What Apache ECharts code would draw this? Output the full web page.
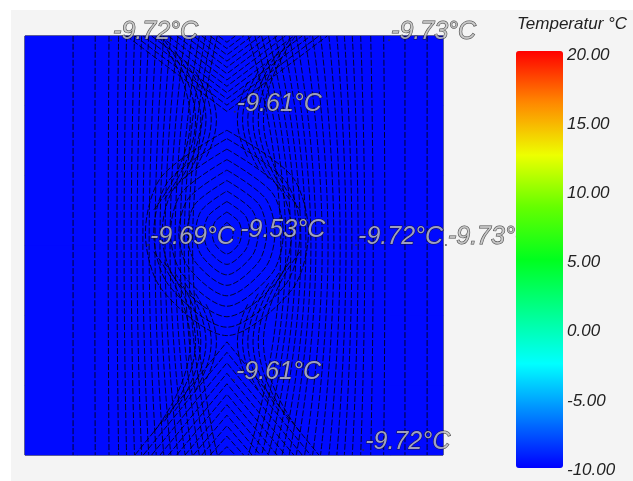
<!DOCTYPE html>
<html><head><meta charset="utf-8">
<script src="https://cdn.jsdelivr.net/npm/echarts@6/dist/echarts.min.js"></script>
<style>html,body{margin:0;padding:0;background:#fff}#c{width:633px;height:481px}</style>
</head><body><div id="c"></div><script>
// temperature field (°C), rows bottom -> top
const fieldCols = ['c1','c2','c3','c4','c5','c6','c7','c8'];
const fieldRows = ['r1','r2','r3','r4','r5','r6'];
const fieldTemps = [
  [-9.72,-9.71,-9.67,-9.62,-9.63,-9.68,-9.72,-9.73],
  [-9.72,-9.70,-9.66,-9.60,-9.61,-9.67,-9.71,-9.73],
  [-9.72,-9.70,-9.65,-9.54,-9.57,-9.66,-9.71,-9.73],
  [-9.72,-9.70,-9.65,-9.53,-9.57,-9.66,-9.71,-9.73],
  [-9.72,-9.70,-9.66,-9.60,-9.61,-9.67,-9.71,-9.73],
  [-9.72,-9.71,-9.67,-9.62,-9.63,-9.68,-9.72,-9.73]
];
// colour scale
const scaleMin = -10, scaleMax = 20, scaleStep = 5;
const scaleColors = ['#0000ff','#0080ff','#00ffff','#00ff8f','#00ff1e','#64ff00','#edff00','#ff8900','#ff0000'];
const scaleTitle = 'Temperatur °C';
// contour lines (domain 0..1): side lines [xTop, xMid, xBottom]
const leftContours = [
  [0.115,0.115,0.115],[0.168,0.167,0.168],[0.201,0.199,0.201],[0.224,0.220,0.224],
  [0.243,0.237,0.243],[0.262,0.254,0.262],[0.279,0.268,0.279],[0.296,0.282,0.296],
  [0.314,0.297,0.314],[0.332,0.311,0.332],[0.349,0.323,0.349],[0.366,0.335,0.366],
  [0.383,0.347,0.383],[0.400,0.359,0.400],[0.417,0.371,0.417],[0.432,0.381,0.432],
  [0.446,0.391,0.446],[0.460,0.401,0.460]
];
const rightContours = [
  [0.962,0.962,0.962],[0.909,0.909,0.909],[0.858,0.861,0.858],[0.827,0.833,0.827],
  [0.803,0.813,0.803],[0.783,0.797,0.783],[0.764,0.782,0.764],[0.746,0.768,0.746],
  [0.727,0.754,0.727],[0.707,0.739,0.707],[0.688,0.725,0.688],[0.669,0.711,0.669],
  [0.649,0.696,0.649],[0.632,0.684,0.632],[0.615,0.672,0.615],[0.598,0.660,0.598],
  [0.582,0.648,0.582],[0.566,0.636,0.566],[0.550,0.624,0.550],[0.534,0.612,0.534]
];
// nested contours around the centre column
const contourCenter = [0.483, 0.53];
const lensContours = [
  [0.015,0.025],[0.035,0.05],[0.055,0.075],[0.075,0.10],[0.095,0.125],[0.115,0.15],
  [0.135,0.175],[0.155,0.20],[0.175,0.225],[0.195,0.245]
];
// V-shaped contours from the top / bottom edge: [half width at edge, apex height]
const topArches = [
  [0.02,0.985],[0.04,0.97],[0.06,0.955],[0.08,0.94],[0.10,0.925],[0.12,0.91],
  [0.14,0.895],[0.16,0.88],[0.18,0.865],[0.20,0.85],[0.22,0.835],[0.24,0.82]
];
const bottomArches = [
  [0.02,0.02],[0.04,0.045],[0.06,0.07],[0.08,0.095],[0.10,0.12],[0.12,0.145],
  [0.14,0.17],[0.16,0.195],[0.18,0.22],[0.20,0.245],[0.22,0.27]
];
// curved contours hugging the two saddle points
const saddleHeights = [0.80, 0.27];
const saddleOffsets = [0.03, 0.055, 0.08, 0.105, 0.13, 0.155];
// contour labels [x, y, value]
const labelPoints = [
  [0.206,0.990,-9.72],[0.871,0.990,-9.73],[0.502,0.819,-9.61],
  [0.294,0.501,-9.69],[0.510,0.518,-9.53],[0.792,0.501,-9.72],
  [1.007,0.501,-9.73],[0.500,0.179,-9.61],[0.809,0.012,-9.72]
];

const heatData = [];
fieldTemps.forEach((row, j) => row.forEach((v, i) => heatData.push([i, j, v])));

const contourStyle = {color:'#000000', width:1, type:[6,2], opacity:0.8};
function lineSeries(pts, smooth){
  return {type:'line', xAxisIndex:1, yAxisIndex:1, data:pts, smooth:smooth, symbol:'none',
    silent:true, lineStyle:contourStyle, z:2, animation:false};
}
const [cx, cy] = contourCenter;
const series = [{
  type:'heatmap', xAxisIndex:0, yAxisIndex:0, data:heatData, z:1, silent:true, animation:false
}];
leftContours.concat(rightContours).forEach(c => series.push(lineSeries([[c[0],1],[c[1],0.5],[c[2],0]], 0.5)));
lensContours.forEach(([w,h]) => series.push(lineSeries([
  [cx,cy+h],[cx+0.8*w,cy+0.55*h],[cx+w,cy],[cx+0.8*w,cy-0.55*h],[cx,cy-h],
  [cx-0.8*w,cy-0.55*h],[cx-w,cy],[cx-0.8*w,cy+0.55*h],[cx,cy+h]], 0.3)));
topArches.forEach(([w,a]) => series.push(lineSeries([[cx-w,1],[cx,a],[cx+w,1]], false)));
bottomArches.forEach(([w,a]) => series.push(lineSeries([[cx-w,0],[cx,a],[cx+w,0]], false)));
saddleHeights.forEach(sy => saddleOffsets.forEach(d => {
  series.push(lineSeries([[cx-0.02-d, sy+0.06+d],[cx-0.01-0.5*d, sy],[cx-0.02-d, sy-0.06-d]], 0.5));
  series.push(lineSeries([[cx+0.02+d, sy+0.06+d],[cx+0.01+0.5*d, sy],[cx+0.02+d, sy-0.06-d]], 0.5));
}));
series.push({
  type:'scatter', xAxisIndex:1, yAxisIndex:1, clip:false, data:labelPoints, symbolSize:2,
  itemStyle:{color:'#333'}, z:3, silent:true, animation:false,
  label:{show:true, position:'right', distance:1, offset:[0,-8],
    formatter:p => p.value[2].toFixed(2) + '°C',
    fontFamily:'Liberation Sans', fontStyle:'italic', fontSize:25,
    color:'#c4c4c4', textBorderColor:'#151515', textBorderWidth:1}
});

const chart = echarts.init(document.getElementById('c'), null, {renderer:'canvas'});
chart.setOption({
  backgroundColor:'#fff',
  animation:false,
  graphic:[{type:'rect', shape:{x:11, y:10, width:622, height:471}, style:{fill:'#f4f4f4'}, z:-10, silent:true}],
  title:{text:scaleTitle, left:517, top:16, padding:0,
    textStyle:{fontFamily:'Liberation Sans', fontStyle:'italic', fontWeight:'normal', fontSize:17, color:'#222'}},
  grid:[
    {left:25, top:36, width:418, height:419, show:true, borderColor:'#000', borderWidth:1, backgroundColor:'#0000ff'},
    {left:516, top:55, width:47, height:415}
  ],
  xAxis:[
    {type:'category', data:fieldCols, gridIndex:0, show:false},
    {type:'value', min:0, max:1, gridIndex:0, show:false},
    {type:'value', min:0, max:1, gridIndex:1, show:false}
  ],
  yAxis:[
    {type:'category', data:fieldRows, gridIndex:0, show:false},
    {type:'value', min:0, max:1, gridIndex:0, show:false},
    {type:'value', min:scaleMin, max:scaleMax, interval:scaleStep, gridIndex:1, position:'right',
      axisLine:{show:false}, axisTick:{show:false}, splitLine:{show:false},
      axisLabel:{margin:4, formatter:v => v.toFixed(2), fontFamily:'Liberation Sans', fontStyle:'italic', fontSize:17, color:'#222'}}
  ],
  visualMap:{type:'continuous', seriesIndex:0, dimension:2, min:scaleMin, max:scaleMax,
    orient:'vertical', left:516, top:51, itemWidth:47, itemHeight:417, padding:0,
    calculable:false, hoverLink:false, inRange:{color:scaleColors}},
  series:series
});
</script></body></html>
